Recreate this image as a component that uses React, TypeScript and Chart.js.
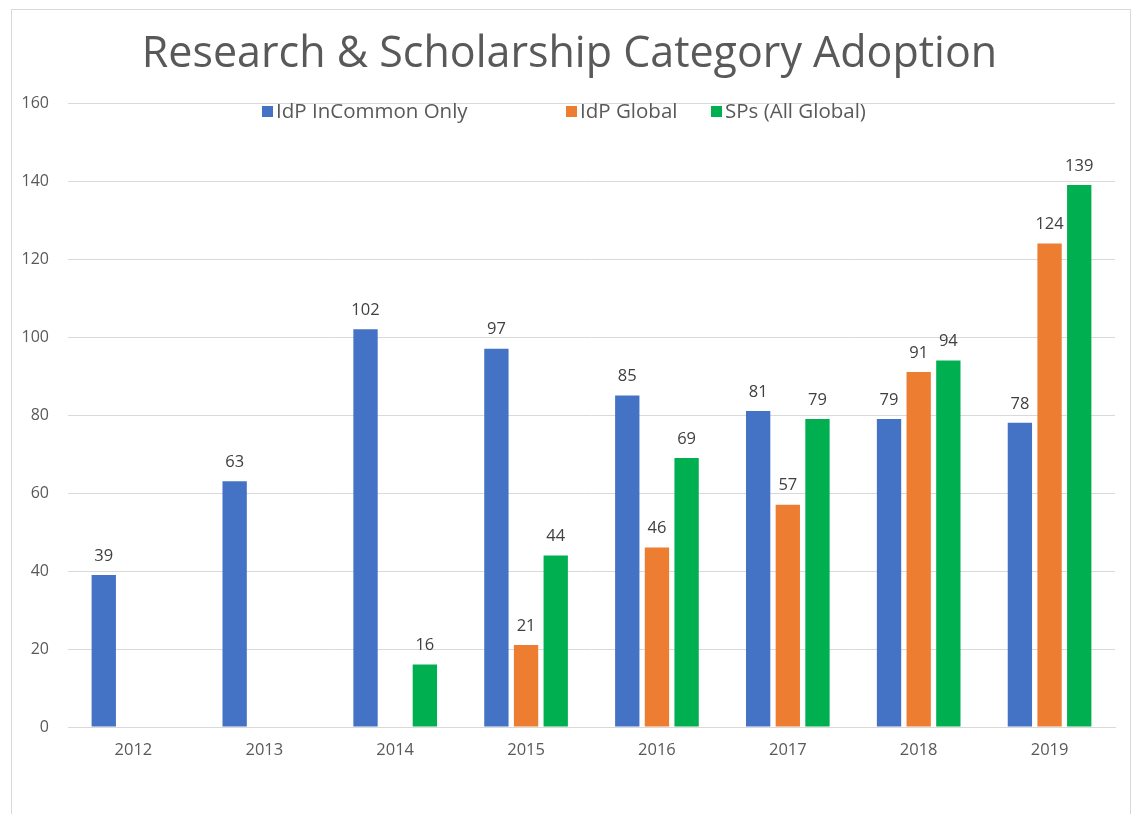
import React, { useEffect, useRef } from "react";
import { Chart, registerables } from "chart.js";

Chart.register(...registerables);

const categories = ["2012", "2013", "2014", "2015", "2016", "2017", "2018", "2019"];
const idpInCommonOnly = [39, 63, 102, 97, 85, 81, 79, 78];
const idpGlobal = [null, null, null, 21, 46, 57, 91, 124];
const spsAllGlobal = [null, null, 16, 44, 69, 79, 94, 139];
const seriesNames = ["IdP InCommon Only", "IdP Global", "SPs (All Global)"];
const seriesColors = ["#4472C4", "#ED7D31", "#00B050"];
const yTicks = [0, 20, 40, 60, 80, 100, 120, 140, 160];
const titleText = "Research & Scholarship Category Adoption";

const FONT = "'Open Sans', 'DejaVu Sans', sans-serif";

const overlayPlugin = {
  id: "overlay",
  afterDatasetsDraw(chart: any) {
    const ctx = chart.ctx;
    ctx.save();
    // data labels
    ctx.font = `16.5px ${FONT}`;
    ctx.fillStyle = "#404040";
    ctx.textAlign = "center";
    ctx.textBaseline = "middle";
    chart.data.datasets.forEach((ds: any, di: number) => {
      const meta = chart.getDatasetMeta(di);
      meta.data.forEach((el: any, i: number) => {
        const v = ds.data[i];
        if (v === null || v === undefined) return;
        ctx.fillText(String(v), el.x, el.y - 19);
      });
    });
    // title
    ctx.font = `43px ${FONT}`;
    ctx.fillStyle = "#595959";
    ctx.fillText(titleText, chart.width / 2, 55);
    // legend
    ctx.font = `20.5px ${FONT}`;
    ctx.textAlign = "left";
    const starts = [262, 566, 711];
    const ly = 112;
    chart.data.datasets.forEach((ds: any, di: number) => {
      const x = starts[di];
      ctx.fillStyle = ds.backgroundColor;
      ctx.fillRect(x, ly - 6, 11, 11);
      ctx.fillStyle = "#595959";
      ctx.fillText(ds.label, x + 14, ly);
    });
    ctx.restore();
  },
};

export default function App() {
  const ref = useRef<HTMLCanvasElement>(null);
  useEffect(() => {
    if (!ref.current) return;
    const chart = new Chart(ref.current, {
      type: "bar",
      data: {
        labels: categories,
        datasets: [
          { label: seriesNames[0], data: idpInCommonOnly, backgroundColor: seriesColors[0] },
          { label: seriesNames[1], data: idpGlobal, backgroundColor: seriesColors[1] },
          { label: seriesNames[2], data: spsAllGlobal, backgroundColor: seriesColors[2] },
        ],
      },
      options: {
        responsive: false,
        animation: false,
        layout: { padding: { top: 103, right: 24, bottom: 0, left: 0 } },
        datasets: {
          bar: { categoryPercentage: 0.68, barPercentage: 0.82 },
        },
        plugins: {
          legend: { display: false },
          title: { display: false },
          tooltip: { enabled: false },
        },
        scales: {
          x: {
            grid: { display: false, drawTicks: false },
            border: { display: true, color: "#d9d9d9", width: 1 },
            ticks: { color: "#595959", font: { family: FONT, size: 16.5 }, padding: 13 },
            afterFit: (s: any) => { s.height = 87; },
          },
          y: {
            min: 0,
            max: 160,
            afterBuildTicks: (s: any) => { s.ticks = yTicks.map((v) => ({ value: v })); },
            grid: { color: "#d9d9d9", lineWidth: 1, drawTicks: false },
            border: { display: false },
            ticks: { color: "#595959", font: { family: FONT, size: 16 }, padding: 19 },
            afterFit: (s: any) => { s.width = 68; },
          },
        },
      },
      plugins: [overlayPlugin],
    });
    return () => chart.destroy();
  }, []);
  return (
    <div style={{ position: "fixed", left: 0, top: 0, width: 1139, height: 814, overflow: "hidden", background: "#fff" }}>
      <div style={{ position: "absolute", left: 11, top: 9, width: 1120, height: 900, border: "1px solid #d9d9d9", boxSizing: "border-box" }} />
      <canvas ref={ref} width={1139} height={814} style={{ position: "absolute", left: 0, top: 0, width: 1139, height: 814 }} />
    </div>
  );
}
